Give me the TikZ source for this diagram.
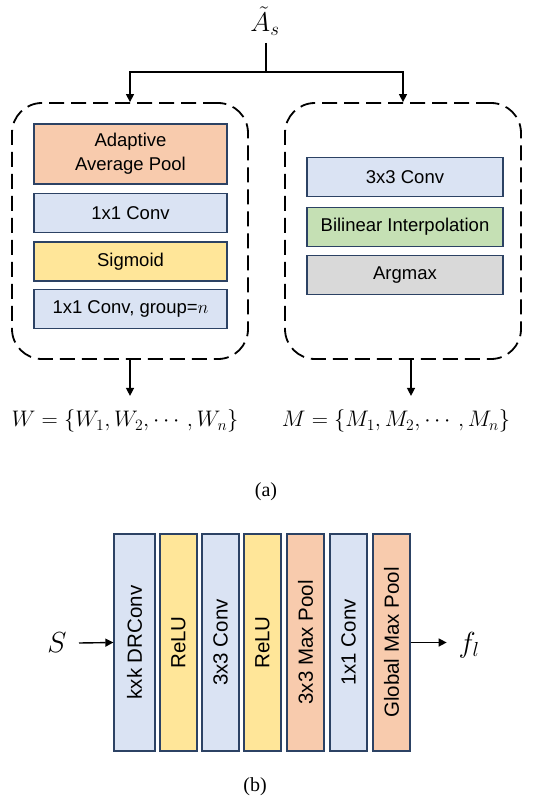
\documentclass[tikz,border=0pt]{standalone}
\usepackage{fix-cm}
\usepackage{amsmath}
\usepackage{fontspec}
\setmainfont{Liberation Serif}
\setsansfont{Liberation Sans}
\usetikzlibrary{arrows.meta, positioning}
\definecolor{boxline}{RGB}{44,66,100}
\definecolor{poolfill}{RGB}{248,203,173}
\definecolor{convfill}{RGB}{218,227,243}
\definecolor{sigfill}{RGB}{255,230,153}
\definecolor{interpfill}{RGB}{197,224,180}
\definecolor{argfill}{RGB}{217,217,217}
\tikzset{>={Triangle[length=8pt,width=8pt]}}
\tikzset{
  layer/.style={draw=boxline, line width=1.3pt, inner sep=0pt, align=center,
    font=\sffamily\fontsize{18.5}{24}\selectfont},
  hlayer/.style={layer, minimum width=193, minimum height=39},
  vlayer/.style={layer, rotate=90, minimum width=217, minimum height=37,
    font=\sffamily\fontsize{20.5}{24}\selectfont},
  branch/.style={draw, dash pattern=on 15pt off 7pt, line width=1.8pt,
    rounded corners=30pt, minimum width=236, minimum height=256},
  mathlabel/.style={font=\fontsize{22.5}{26}\selectfont},
  biglabel/.style={font=\fontsize{29}{32}\selectfont},
  caption/.style={font=\fontsize{20}{24}\selectfont}
}

\begin{document}
\begin{tikzpicture}[x=1pt, y=-1pt, line width=1.4pt]
  \useasboundingbox (0,0) rectangle (542,802);
  % (a) two branches
  \node[font=\fontsize{27}{30}\selectfont, inner sep=1pt] (As) at (265,21) {$\tilde{A}_s$};
  \coordinate (split) at (266,72);
  \node[branch] (wbox) at (130,231) {};
  \node[branch] (mbox) at (403,231) {};
  \draw (split |- As.south) ++(0,6) -- (split);
  \draw[->] (split) -| (wbox.north);
  \draw[->] (split) -| (mbox.north);

  \node[hlayer, fill=poolfill, minimum height=60] (aap) at (130.5,154) {Adaptive\\Average Pool};
  \node[hlayer, fill=convfill] (conv1) at (130.5,213) {1x1 Conv};
  \node[hlayer, fill=sigfill] (sig) at (130.5,261.5) {Sigmoid};
  \node[hlayer, fill=convfill] (gconv) at (130.5,309) {1x1 Conv, group=$n$};

  \node[hlayer, fill=convfill, minimum width=196] (conv3) at (405,177) {3x3 Conv};
  \node[hlayer, fill=interpfill, minimum width=196] (interp) at (405,227) {Bilinear Interpolation};
  \node[hlayer, fill=argfill, minimum width=196] (argm) at (405,275) {Argmax};

  \node[mathlabel] (Wset) at (125,421) {$W = \{W_1, W_2, \cdots, W_n\}$};
  \node[mathlabel] (Mset) at (396,421) {$M = \{M_1, M_2, \cdots, M_n\}$};
  \draw[->] (wbox.south) -- ++(0,36);
  \draw[->] ([xshift=8pt]mbox.south) -- ++(0,36);
  \node[caption] (capa) at (266,492) {(a)};

  % (b) local feature branch
  \node[vlayer, fill=convfill, minimum height=41] (b1) at (134.5,642.5) {kxk DRConv};
  \node[vlayer, fill=sigfill] (b2) at (178.5,642.5) {ReLU};
  \node[vlayer, fill=convfill] (b3) at (220.5,642.5) {3x3 Conv};
  \node[vlayer, fill=sigfill] (b4) at (262.5,642.5) {ReLU};
  \node[vlayer, fill=poolfill] (b5) at (305.5,642.5) {3x3 Max Pool};
  \node[vlayer, fill=convfill] (b6) at (348.5,642.5) {1x1 Conv};
  \node[vlayer, fill=poolfill] (b7) at (391.5,642.5) {Global Max Pool};

  \node[biglabel] (S) at (57,643) {$S$};
  \node[biglabel] (fl) at (469,645) {$f_l$};
  \coordinate (Sout) at (79,643);
  \draw[->] (Sout) -- (b1.north);
  \draw[->] (b7.south) -- ++(36,0);
  \node[caption] (capb) at (255,787) {(b)};
\end{tikzpicture}
\end{document}
